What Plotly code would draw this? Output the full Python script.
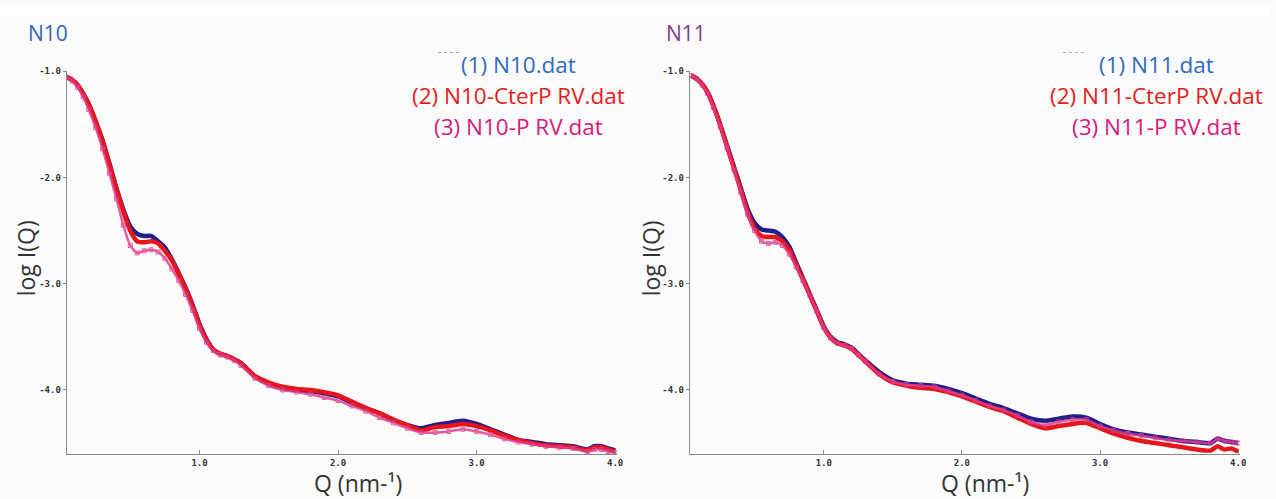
import plotly.graph_objects as go

# ---------------- data ----------------
Q = [0.04, 0.08, 0.12, 0.16, 0.2, 0.25, 0.3, 0.35, 0.4, 0.45, 0.5, 0.55, 0.6, 0.65, 0.7,
     0.75, 0.8, 0.85, 0.9, 0.95, 1.0, 1.05, 1.1, 1.15, 1.2, 1.25, 1.3, 1.4, 1.5, 1.6,
     1.7, 1.8, 1.9, 2.0, 2.1, 2.2, 2.3, 2.4, 2.5, 2.6, 2.7, 2.8, 2.9, 3.0, 3.1, 3.2,
     3.3, 3.4, 3.5, 3.6, 3.7, 3.8, 3.85, 3.9, 3.95, 4.0]

n10 = [-1.05, -1.08, -1.13, -1.21, -1.31, -1.47, -1.65, -1.87, -2.10, -2.30, -2.46, -2.53, -2.55, -2.55, -2.60,
       -2.66, -2.77, -2.90, -3.04, -3.20, -3.38, -3.52, -3.62, -3.66, -3.68, -3.71, -3.75, -3.87, -3.94, -3.98,
       -4.00, -4.01, -4.03, -4.06, -4.12, -4.17, -4.22, -4.28, -4.33, -4.36, -4.33, -4.31, -4.29, -4.32, -4.37, -4.42,
       -4.47, -4.49, -4.51, -4.52, -4.53, -4.56, -4.53, -4.53, -4.55, -4.57]
n10_cterp = [-1.05, -1.08, -1.13, -1.21, -1.31, -1.47, -1.66, -1.88, -2.11, -2.32, -2.50, -2.60, -2.61, -2.60, -2.62,
             -2.69, -2.78, -2.91, -3.05, -3.21, -3.39, -3.53, -3.62, -3.66, -3.68, -3.71, -3.75, -3.87, -3.93, -3.97,
             -3.99, -4.00, -4.02, -4.05, -4.11, -4.17, -4.22, -4.28, -4.33, -4.38, -4.35, -4.34, -4.32, -4.34, -4.38, -4.43,
             -4.47, -4.50, -4.52, -4.53, -4.54, -4.57, -4.54, -4.54, -4.56, -4.58]
n10_p = [-1.06, -1.09, -1.15, -1.24, -1.36, -1.53, -1.73, -1.96, -2.20, -2.45, -2.64, -2.71, -2.69, -2.68, -2.70,
         -2.76, -2.86, -2.97, -3.10, -3.25, -3.42, -3.55, -3.63, -3.67, -3.69, -3.72, -3.77, -3.89, -3.96, -4.00,
         -4.02, -4.04, -4.07, -4.10, -4.15, -4.20, -4.26, -4.31, -4.36, -4.40, -4.40, -4.39, -4.37, -4.39, -4.42, -4.46,
         -4.49, -4.51, -4.53, -4.54, -4.55, -4.58, -4.56, -4.56, -4.58, -4.59]

n11 = [-1.04, -1.07, -1.12, -1.20, -1.32, -1.50, -1.70, -1.90, -2.10, -2.30, -2.43, -2.49, -2.50, -2.51, -2.56,
       -2.65, -2.80, -2.95, -3.10, -3.25, -3.40, -3.50, -3.55, -3.57, -3.60, -3.66, -3.72, -3.83, -3.91, -3.94,
       -3.95, -3.96, -3.99, -4.03, -4.08, -4.13, -4.17, -4.22, -4.27, -4.29, -4.27, -4.25, -4.26, -4.32, -4.37, -4.40,
       -4.42, -4.44, -4.46, -4.48, -4.49, -4.50, -4.46, -4.48, -4.49, -4.50]
n11_cterp = [-1.04, -1.07, -1.12, -1.20, -1.32, -1.50, -1.71, -1.91, -2.12, -2.33, -2.48, -2.55, -2.56, -2.56, -2.60,
             -2.68, -2.82, -2.96, -3.11, -3.26, -3.41, -3.51, -3.56, -3.58, -3.61, -3.67, -3.73, -3.85, -3.93, -3.96,
             -3.98, -3.99, -4.02, -4.06, -4.11, -4.16, -4.20, -4.26, -4.32, -4.36, -4.34, -4.32, -4.31, -4.36, -4.41, -4.45,
             -4.48, -4.50, -4.52, -4.54, -4.56, -4.57, -4.53, -4.56, -4.55, -4.58]
n11_p = [-1.04, -1.07, -1.13, -1.21, -1.34, -1.52, -1.72, -1.93, -2.14, -2.35, -2.50, -2.60, -2.62, -2.61, -2.64,
         -2.72, -2.84, -2.97, -3.11, -3.26, -3.41, -3.51, -3.56, -3.58, -3.61, -3.67, -3.73, -3.85, -3.92, -3.95,
         -3.96, -3.97, -4.01, -4.05, -4.10, -4.15, -4.19, -4.24, -4.30, -4.33, -4.30, -4.28, -4.28, -4.34, -4.38, -4.41,
         -4.43, -4.45, -4.47, -4.48, -4.49, -4.50, -4.46, -4.48, -4.49, -4.50]

titles = ["N10", "N11"]
title_colors = ["#3566b8", "#833a8e"]
legend_left = ["(1) N10.dat", "(2) N10-CterP RV.dat", "(3) N10-P RV.dat"]
legend_right = ["(1) N11.dat", "(2) N11-CterP RV.dat", "(3) N11-P RV.dat"]
legend_colors = ["#2f6cc0", "#e3211c", "#d8197f"]
series_colors = ["#1f1f8c", "#e5161b", "#e23d8c"]
ytick_vals = [-1.0, -2.0, -3.0, -4.0]
ytick_text = ["<b>-1.0</b>", "<b>-2.0</b>", "<b>-3.0</b>", "<b>-4.0</b>"]
xtick_vals = [1.0, 2.0, 3.0, 4.0]
xtick_text = ["<b>1.0</b>", "<b>2.0</b>", "<b>3.0</b>", "<b>4.0</b>"]

# ---------------- figure ----------------
fig = go.Figure()
panels = [
    ("x", "y", [n10, n10_cterp, n10_p]),
    ("x2", "y2", [n11, n11_cterp, n11_p]),
]
for xa, ya, series in panels:
    for i, (vals, col) in enumerate(zip(series, series_colors)):
        if i == 2:
            fig.add_trace(go.Scatter(x=Q, y=vals, xaxis=xa, yaxis=ya, mode="lines+markers",
                                     line=dict(color=col, width=2.5, shape="spline", smoothing=0.6),
                                     marker=dict(symbol="square-open", size=4, color=col),
                                     opacity=0.85, showlegend=False))
        else:
            fig.add_trace(go.Scatter(x=Q, y=vals, xaxis=xa, yaxis=ya, mode="lines",
                                     line=dict(color=col, width=4.5, shape="spline", smoothing=0.6),
                                     showlegend=False))

W, H = 1276, 499
axis_common = dict(showgrid=False, zeroline=False, showline=True, linecolor="#8a8a8a", linewidth=1,
                   tickfont=dict(family="DejaVu Sans Mono", size=9, color="#333"))
fig.update_layout(
    width=W, height=H,
    margin=dict(l=0, r=0, t=0, b=0),
    paper_bgcolor="#fbfbfb", plot_bgcolor="#fbfbfb",
    font=dict(family="Open Sans"),
    xaxis=dict(domain=[67 / W, 620 / W], range=[0.041, 4.014], anchor="y",
               tickvals=xtick_vals, ticktext=xtick_text, ticks="inside", ticklen=4, tickcolor="#8a8a8a",
               **axis_common),
    yaxis=dict(domain=[1 - 454 / H, 1 - 67 / H], range=[-4.607, -1.0], anchor="x",
               tickvals=ytick_vals, ticktext=ytick_text, ticks="outside", ticklen=3, tickcolor="#8a8a8a",
               **axis_common),
    xaxis2=dict(domain=[693 / W, 1246 / W], range=[0.03, 4.014], anchor="y2",
                tickvals=xtick_vals, ticktext=xtick_text, ticks="inside", ticklen=4, tickcolor="#8a8a8a",
                **axis_common),
    yaxis2=dict(domain=[1 - 454 / H, 1 - 67 / H], range=[-4.607, -1.0], anchor="x2",
                tickvals=ytick_vals, ticktext=ytick_text, ticks="outside", ticklen=3, tickcolor="#8a8a8a",
                **axis_common),
)

# white strip on top
fig.add_shape(type="rect", xref="paper", yref="paper", x0=0, x1=1, y0=1 - 11 / H, y1=1,
              fillcolor="white", line_width=0, layer="below")

def px(xp, yp):
    return xp / W, 1 - yp / H

ann = []
# panel titles
for (xp, yp), t, c in zip([(26, 28), (667, 28)], titles, title_colors):
    x, y = px(xp, yp)
    ann.append(dict(x=x, y=y, xref="paper", yref="paper", text=t, showarrow=False, xanchor="left",
                    yanchor="middle", font=dict(family="Open Sans", size=21, color=c)))
# legends
for cx, texts in [(521, legend_left), (1162, legend_right)]:
    for yp, t, c in zip([60, 91, 123], texts, legend_colors):
        x, y = px(cx, yp)
        ann.append(dict(x=x, y=y, xref="paper", yref="paper", text=t, showarrow=False, xanchor="center",
                        yanchor="middle", font=dict(family="Open Sans", size=22.5, color=c)))
# axis titles
for xp in [27, 655]:
    x, y = px(xp, 256)
    ann.append(dict(x=x, y=y, xref="paper", yref="paper", text="log I(Q)", showarrow=False, textangle=-90,
                    xanchor="center", yanchor="middle", font=dict(family="Open Sans", size=23, color="#333")))
for xp in [360, 990]:
    x, y = px(xp, 483)
    ann.append(dict(x=x, y=y, xref="paper", yref="paper", text="Q (nm-¹)", showarrow=False,
                    xanchor="center", yanchor="middle", font=dict(family="Open Sans", size=23, color="#333")))
fig.update_layout(annotations=ann)

# small green dashes above legends
for x0p, x1p in [(440, 463), (1068, 1090)]:
    fig.add_shape(type="line", xref="paper", yref="paper", x0=x0p / W, x1=x1p / W, y0=1 - 48 / H, y1=1 - 48 / H,
                  line=dict(color="#8fc08f", width=1, dash="dot"))

fig.write_html("out.html", config={"displayModeBar": False},
               post_script="document.body.style.margin='0';")
